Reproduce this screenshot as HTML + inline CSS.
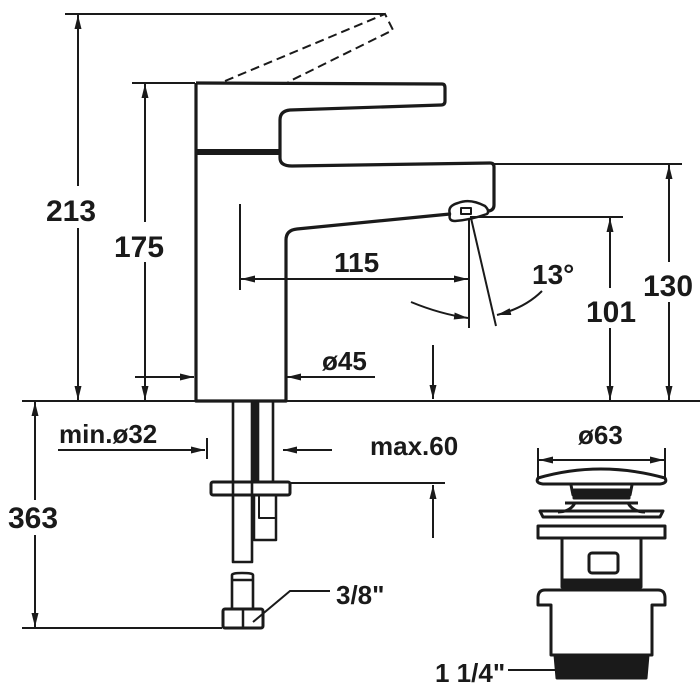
<!DOCTYPE html>
<html><head><meta charset="utf-8"><style>
html,body{margin:0;padding:0;background:#fff}
svg{display:block}
text{font-family:"Liberation Sans",Arial,sans-serif;font-weight:bold;fill:#1a1a1a}
</style></head><body>
<svg width="700" height="700" viewBox="0 0 700 700" xmlns="http://www.w3.org/2000/svg">
<defs>
<marker id="a" viewBox="0 0 14 7" refX="14" refY="3.5" markerWidth="14" markerHeight="7" markerUnits="userSpaceOnUse" orient="auto-start-reverse"><path d="M0,0L14,3.5L0,7z" fill="#1a1a1a"/></marker>
</defs>
<g stroke="#1a1a1a" fill="none" stroke-width="2">
<line x1="65" y1="14" x2="385" y2="14"/>
<line x1="132" y1="83" x2="195" y2="83"/>
<line x1="493" y1="164" x2="682" y2="164"/>
<line x1="470" y1="217" x2="623" y2="217"/>
<line x1="22" y1="401" x2="700" y2="401"/>
<line x1="22" y1="628" x2="222" y2="628"/>
<line x1="290" y1="483" x2="445" y2="483"/>
<line x1="78" y1="15" x2="78" y2="186" marker-start="url(#a)"/>
<line x1="78" y1="228" x2="78" y2="400" marker-end="url(#a)"/>
<line x1="145" y1="84" x2="145" y2="222" marker-start="url(#a)"/>
<line x1="145" y1="262" x2="145" y2="400" marker-end="url(#a)"/>
<line x1="669" y1="165" x2="669" y2="262" marker-start="url(#a)"/>
<line x1="669" y1="302" x2="669" y2="400" marker-end="url(#a)"/>
<line x1="610" y1="218" x2="610" y2="288" marker-start="url(#a)"/>
<line x1="610" y1="328" x2="610" y2="400" marker-end="url(#a)"/>
<line x1="240" y1="204" x2="240" y2="290"/>
<line x1="469" y1="218" x2="469" y2="328"/>
<line x1="241" y1="279" x2="468" y2="279" marker-start="url(#a)" marker-end="url(#a)"/>
<line x1="471" y1="218" x2="496" y2="326"/>
<path d="M411,302 Q440,314 468,318" marker-end="url(#a)"/>
<path d="M542,291 Q525,308 497,315" marker-end="url(#a)"/>
<line x1="135" y1="377" x2="194" y2="377" marker-end="url(#a)"/>
<line x1="375" y1="377" x2="287" y2="377" marker-end="url(#a)"/>
<line x1="433" y1="345" x2="433" y2="399" marker-end="url(#a)"/>
<line x1="58" y1="450" x2="205" y2="450" marker-end="url(#a)"/>
<line x1="207" y1="438" x2="207" y2="459"/>
<line x1="332" y1="450" x2="283" y2="450" marker-end="url(#a)"/>
<line x1="433" y1="538" x2="433" y2="485" marker-end="url(#a)"/>
<line x1="35" y1="402" x2="35" y2="500" marker-start="url(#a)"/>
<line x1="35" y1="535" x2="35" y2="627" marker-end="url(#a)"/>
<polyline points="253,622 290,591 330,591"/>
<line x1="508" y1="670" x2="560" y2="670"/>
<line x1="538" y1="448" x2="538" y2="480"/>
<line x1="665" y1="448" x2="665" y2="480"/>
<line x1="539" y1="460" x2="664" y2="460" marker-start="url(#a)" marker-end="url(#a)"/>
</g>
<g stroke="#1a1a1a" fill="none" stroke-width="2" stroke-dasharray="9,5">
<path d="M225,81 L385,14 L393,30 L288,82"/>
</g>
<g stroke="#1a1a1a" fill="none" stroke-width="3.2" stroke-linejoin="round">
<path d="M196,83 L442,84 Q445,84 445,88 L445,101 Q445,105 441,105 L290,110 Q280,111 280,120 L280,158 Q280,166 292,166 L490,163 Q494,163 494,167 L494,205 Q494,210 489,211"/>
<path d="M196,83 L196,401 L286,401 L286,240 Q286,230 297,229 L450,214"/>
<line x1="197" y1="152" x2="280" y2="152" stroke-width="6"/>
<path d="M450,214 Q447,206 458,203 Q470,198 485,206 Q490,211 487,214 Q470,220 455,221 Q448,221 450,214z" stroke-width="2.5"/>
<rect x="461" y="208" width="10" height="6" stroke-width="2"/>
<rect x="233" y="401" width="19" height="161" stroke-width="2.6"/>
<rect x="252" y="401" width="5" height="81" fill="#1a1a1a" stroke-width="1"/>
<rect x="258" y="401" width="15" height="81" stroke-width="2.6"/>
<rect x="211" y="482" width="79" height="13" rx="2" stroke-width="3"/>
<path d="M254,495 L254,540 L276,540 L276,495" stroke-width="2.5"/>
<path d="M259,495 L259,518 L275,518" stroke-width="2"/>
<path d="M232,575 Q232,573 242,573 Q253,573 253,575 L253,610 M232,575 L232,610 M233,580 L252,580" stroke-width="2.6"/>
<rect x="223" y="609" width="40" height="19" rx="2" stroke-width="3"/>
<line x1="243" y1="609" x2="243" y2="628" stroke-width="2.5"/>
</g>
<g stroke="#1a1a1a" fill="none" stroke-width="3" stroke-linejoin="round">
<path d="M538,478 Q600,460 665,478 Q668,483 660,484 L543,484 Q535,483 538,478z"/>
<path d="M571,485 L573,495 L630,495 L632,485"/>
<rect x="574" y="490" width="55" height="8" fill="#1a1a1a"/>
<path d="M565,503 L638,503 M558,512 Q570,512 575,503 M645,512 Q633,512 628,503"/>
<path d="M540,511 L663,511 L660,517 L543,517z"/>
<rect x="538" y="526" width="127" height="12"/>
<path d="M562,538 L562,580 M641,538 L641,580"/>
<rect x="589" y="553" width="29" height="20" rx="3"/>
<path d="M562,580 L641,580 L641,587 L562,587z" fill="#1a1a1a"/>
<path d="M545,590 L658,590 Q665,590 665,598 L665,605 L652,605 L652,655 L551,655 L551,605 L538,605 L538,598 Q538,590 545,590z"/>
<path d="M555,655 L648,655 L646,678 L557,678z" fill="#1a1a1a"/>
</g>
<text x="46" y="221" font-size="30">213</text>
<text x="114" y="257" font-size="30">175</text>
<text x="334" y="272" font-size="28">115</text>
<text x="532" y="284" font-size="28">13°</text>
<text x="643" y="296" font-size="30">130</text>
<text x="586" y="322" font-size="30">101</text>
<text x="322" y="370" font-size="26">ø45</text>
<text x="59" y="443" font-size="26">min.ø32</text>
<text x="370" y="455" font-size="26">max.60</text>
<text x="8" y="528" font-size="30">363</text>
<text x="336" y="604" font-size="26">3/8"</text>
<text x="578" y="444" font-size="26">ø63</text>
<text x="435" y="682" font-size="26">1 1/4"</text>
</svg>
</body></html>
